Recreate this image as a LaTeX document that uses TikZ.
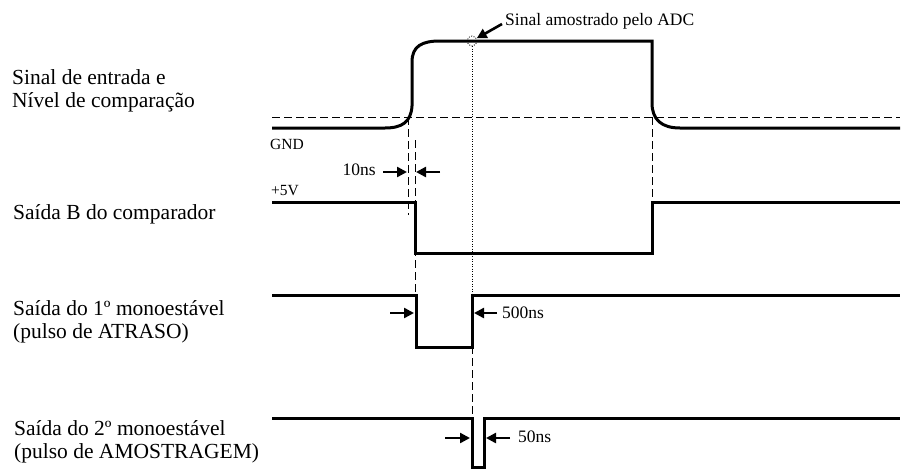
\documentclass[tikz,border=0pt]{standalone}
\usepackage{fontspec}
\setmainfont{Liberation Serif}
\usetikzlibrary{arrows.meta}

\begin{document}
\begin{tikzpicture}[x=1pt, y=-1pt,
  sig/.style={line width=3pt, line join=miter},
  guide/.style={line width=1pt, dash pattern=on 8pt off 4pt},
  probe/.style={line width=0.8pt, dash pattern=on 1pt off 1.5pt},
  dimarrow/.style={line width=2.4pt, -{Triangle[length=10pt,width=10pt]}},
  lbl/.style={anchor=base west, inner sep=0pt, font=\fontsize{21.5}{24}\selectfont},
  tag/.style={inner sep=0pt, font=\fontsize{17.5}{20}\selectfont},
  rail/.style={anchor=base west, inner sep=0pt, font=\fontsize{15.5}{17}\selectfont}]
  \useasboundingbox (0,0) rectangle (904,469);

  % left labels
  \node[lbl] (inA) at (12,84) {Sinal de entrada e};
  \node[lbl] (inB) at (12,107) {Nível de comparação};
  \node[lbl] (cmp) at (13,219) {Saída B do comparador};
  \node[lbl] (monoA) at (13,315) {Saída do 1º monoestável};
  \node[lbl] (monoB) at (13,338) {(pulso de ATRASO)};
  \node[lbl] (sampA) at (14,435) {Saída do 2º monoestável};
  \node[lbl] (sampB) at (14,458) {(pulso de AMOSTRAGEM)};

  \node[rail] (gnd) at (270,149) {GND};
  \node[rail] (vcc) at (271,195) {+5V};

  % guide lines
  \draw[guide] (272,117) -- (900,117);
  \draw[guide] (408,117) -- (408,215);
  \draw[guide] (415,140) -- (415,296);
  \draw[guide] (652,117) -- (652,202);
  \draw[guide] (472,346) -- (472,418);
  \draw[probe] (472,46) -- (472,295);

  % input signal
  \draw[sig] (272,128) -- (385,128) .. controls (402,128) and (411,122) .. (412,106)
    -- (412,62) .. controls (412,46) and (422,41) .. (440,41) -- (652,41)
    -- (652,103) .. controls (652,120) and (662,128) .. (680,128) -- (900,128);

  % comparator output
  \draw[sig] (272,202) -- (415,202) -- (415,253) -- (652,253) -- (652,202) -- (900,202);

  % 1st monostable
  \draw[sig] (272,295) -- (416,295) -- (416,347) -- (472,347) -- (472,295) -- (900,295);

  % 2nd monostable
  \draw[sig] (272,418) -- (472,418) -- (472,467) -- (484,467) -- (484,418) -- (900,418);

  % sampled point
  \node[draw, circle, probe, minimum size=10pt, inner sep=0pt] (samp) at (472,41) {};
  \node[tag, anchor=base west] (adc) at (505,25) {Sinal amostrado pelo ADC};
  \coordinate (adctail) at (502,24);
  \draw[dimarrow, line width=2.6pt] (adctail) -- (samp);

  % 10ns
  \node[tag, anchor=base east] (t10) at (376,175) {10ns};
  \coordinate (d10a) at (383,172);
  \coordinate (d10b) at (407,172);
  \coordinate (d10c) at (440,172);
  \coordinate (d10d) at (416,172);
  \draw[dimarrow] (d10a) -- (d10b);
  \draw[dimarrow] (d10c) -- (d10d);

  % 500ns
  \node[tag, anchor=base west] (t500) at (502,318) {500ns};
  \coordinate (d500a) at (390,313);
  \coordinate (d500b) at (414,313);
  \coordinate (d500c) at (497,313);
  \coordinate (d500d) at (474,313);
  \draw[dimarrow] (d500a) -- (d500b);
  \draw[dimarrow] (d500c) -- (d500d);

  % 50ns
  \node[tag, anchor=base west] (t50) at (518,442) {50ns};
  \coordinate (d50a) at (445,438);
  \coordinate (d50b) at (470,438);
  \coordinate (d50c) at (510,438);
  \coordinate (d50d) at (486,438);
  \draw[dimarrow] (d50a) -- (d50b);
  \draw[dimarrow] (d50c) -- (d50d);
\end{tikzpicture}
\end{document}
